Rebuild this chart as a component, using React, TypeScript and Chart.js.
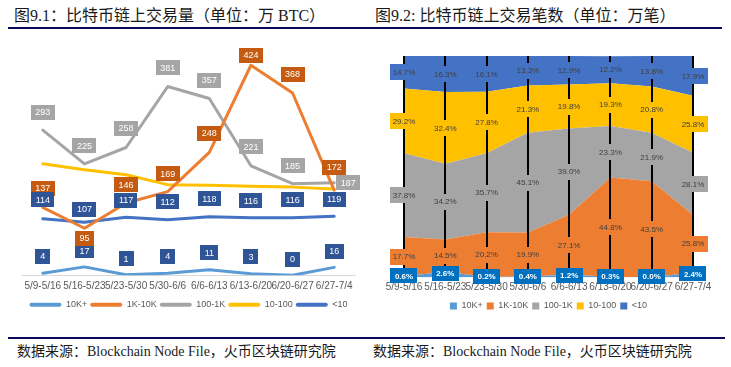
import React, { useEffect, useRef } from 'react';
import { Chart, registerables } from 'chart.js';

Chart.register(...registerables);

// ---------- data ----------
const categories = ['5/9-5/16', '5/16-5/23', '5/23-5/30', '5/30-6/6', '6/6-6/13', '6/13-6/20', '6/20-6/27', '6/27-7/4'];
const seriesNames = ['10K+', '1K-10K', '100-1K', '10-100', '<10'];

// Fig 9.1: on-chain volume (万 BTC)
const vol10Kplus = [4, 17, 1, 4, 11, 3, 0, 16];
const vol1Kto10K = [137, 95, 146, 169, 248, 424, 368, 172];
const vol100to1K = [293, 225, 258, 381, 357, 221, 185, 187];
const vol10to100 = [225, 213, 203, 183, 182, 180, 178, 174];
const volUnder10 = [114, 107, 117, 112, 118, 116, 116, 119];

// Fig 9.2: on-chain transaction count share (%)
const cnt10Kplus = [0.6, 2.6, 0.2, 0.4, 1.2, 0.3, 0.0, 2.4];
const cnt1Kto10K = [17.7, 14.5, 20.2, 19.9, 27.1, 44.8, 43.5, 25.8];
const cnt100to1K = [37.8, 34.2, 35.7, 45.1, 39.0, 23.3, 21.9, 28.1];
const cnt10to100 = [29.2, 32.4, 27.8, 21.3, 19.8, 19.3, 20.8, 25.8];
const cntUnder10 = [14.7, 16.3, 16.1, 13.3, 12.9, 12.2, 13.8, 17.9];

// ---------- styles ----------
const seriesColors = ['#5B9BD5', '#ED7D31', '#A5A5A5', '#FFC000', '#4472C4'];
const SANS = '"Liberation Sans", Arial, sans-serif';
const volLabelBoxColors = ['#2F5597', '#C55A11', '#A5A5A5', null, '#2F5597'];
const volLabelDy: (number[] | null)[] = [
  [-17, -16, -16, -17, -17, -17, -16, -16],
  [-19, 10, -18, -18, -19, -10, -19, -23],
  [-18, -18, -19, -19, -18, -19, -18, 0],
  null,
  [-19, -13, -17, -18, -18, -17, -18, -17],
];
const volLabelDx: (number[] | null)[] = [null, null, [0, 0, 0, 0, 0, 0, 0, 14], null, null];

const volLabelPlugin = {
  id: 'volLabels',
  afterDraw(chart: any) {
    const ctx = chart.ctx;
    ctx.save();
    ctx.font = `9px ${SANS}`;
    ctx.textAlign = 'center';
    ctx.textBaseline = 'middle';
    chart.data.datasets.forEach((ds: any, di: number) => {
      const color = volLabelBoxColors[di];
      const dys = volLabelDy[di];
      if (!color || !dys) return;
      const dxs = volLabelDx[di];
      const meta = chart.getDatasetMeta(di);
      meta.data.forEach((pt: any, i: number) => {
        const text = String(ds.data[i]);
        const w = Math.max(ctx.measureText(text).width + 9, 15);
        const h = 15;
        const cx = pt.x + (dxs ? dxs[i] : 0);
        const cy = pt.y + dys[i];
        ctx.fillStyle = color;
        ctx.fillRect(Math.round(cx - w / 2), Math.round(cy - h / 2), Math.round(w), h);
        ctx.fillStyle = '#ffffff';
        ctx.fillText(text, cx, cy + 0.5);
      });
    });
    ctx.restore();
  },
};

const cntLabelPlugin = {
  id: 'cntLabels',
  afterDraw(chart: any) {
    const ctx = chart.ctx;
    const base = chart.scales.y.getPixelForValue(0);
    ctx.save();
    ctx.textAlign = 'center';
    ctx.textBaseline = 'middle';
    chart.data.datasets.forEach((ds: any, di: number) => {
      const meta = chart.getDatasetMeta(di);
      const prev = di > 0 ? chart.getDatasetMeta(di - 1) : null;
      meta.data.forEach((pt: any, i: number) => {
        const yb = prev ? prev.data[i].y : base;
        const cy = (pt.y + yb) / 2;
        const text = Number(ds.data[i]).toFixed(1) + '%';
        if (di === 0) {
          ctx.font = `bold 8px ${SANS}`;
          const w = ctx.measureText(text).width + 9;
          const h = 15;
          ctx.fillStyle = '#0070C0';
          ctx.fillRect(Math.round(pt.x - w / 2), Math.round(cy - h / 2 - 1), Math.round(w), h);
          ctx.fillStyle = '#ffffff';
          ctx.fillText(text, pt.x, cy - 0.5);
        } else {
          ctx.font = `8px ${SANS}`;
          const w = ctx.measureText(text).width + 6;
          const h = 16;
          ctx.fillStyle = seriesColors[di];
          ctx.fillRect(Math.round(pt.x - w / 2), Math.round(cy - h / 2), Math.round(w), h);
          ctx.fillStyle = '#404040';
          ctx.fillText(text, pt.x, cy + 0.5);
        }
      });
    });
    ctx.restore();
  },
};

function VolumeChart() {
  const ref = useRef<HTMLCanvasElement>(null);
  useEffect(() => {
    if (!ref.current) return;
    const values = [vol10Kplus, vol1Kto10K, vol100to1K, vol10to100, volUnder10];
    const chart = new Chart(ref.current, {
      type: 'line',
      data: {
        labels: categories,
        datasets: values.map((d, i) => ({
          label: seriesNames[i],
          data: d,
          borderColor: seriesColors[i],
          backgroundColor: seriesColors[i],
          borderWidth: 3,
          pointRadius: 0,
          tension: 0,
          fill: false,
          borderCapStyle: 'round' as const,
          borderJoinStyle: 'round' as const,
        })),
      },
      options: {
        responsive: false,
        animation: false,
        layout: { padding: { left: 22, right: 10, top: 10, bottom: 2.7 } },
        scales: {
          x: {
            offset: true,
            grid: { display: false, drawTicks: false },
            border: { display: true, color: '#D9D9D9', width: 1 },
            ticks: { autoSkip: false, maxRotation: 0, minRotation: 0, padding: 5, color: '#595959', font: { family: SANS, size: 10 } },
          },
          y: { display: false, min: 0, max: 475 },
        },
        plugins: {
          tooltip: { enabled: false },
          legend: {
            position: 'bottom',
            labels: {
              boxWidth: 32,
              boxHeight: 4,
              padding: 3,
              color: '#595959',
              font: { family: SANS, size: 9 },
              generateLabels: (c: any) =>
                c.data.datasets.map((ds: any, i: number) => ({
                  text: ds.label,
                  fillStyle: ds.borderColor,
                  strokeStyle: ds.borderColor,
                  lineWidth: 0,
                  borderRadius: 2,
                  hidden: false,
                  datasetIndex: i,
                  fontColor: '#595959',
                })),
            },
          },
        },
      },
      plugins: [volLabelPlugin],
    } as any);
    return () => chart.destroy();
  }, []);
  return <canvas ref={ref} width={365} height={292} style={{ position: 'absolute', left: 0, top: 30, width: 365, height: 292 }} />;
}

function CountChart() {
  const ref = useRef<HTMLCanvasElement>(null);
  useEffect(() => {
    if (!ref.current) return;
    const values = [cnt10Kplus, cnt1Kto10K, cnt100to1K, cnt10to100, cntUnder10];
    const chart = new Chart(ref.current, {
      type: 'line',
      data: {
        labels: categories,
        datasets: values.map((d, i) => ({
          label: seriesNames[i],
          data: d,
          borderColor: seriesColors[i],
          backgroundColor: seriesColors[i],
          borderWidth: 0,
          pointRadius: 0,
          tension: 0,
          fill: i === 0 ? 'origin' : '-1',
        })),
      },
      options: {
        responsive: false,
        animation: false,
        layout: { padding: { left: 39, right: 38, top: 26, bottom: 2.5 } },
        scales: {
          x: {
            offset: false,
            grid: { display: true, color: '#000000', lineWidth: 2, drawTicks: false, z: 1 },
            border: { display: false },
            ticks: { autoSkip: false, maxRotation: 0, minRotation: 0, padding: 4, color: '#595959', font: { family: SANS, size: 10 } },
          },
          y: { display: false, stacked: true, min: 0, max: 100 },
        },
        plugins: {
          tooltip: { enabled: false },
          filler: { propagate: false },
          legend: {
            position: 'bottom',
            labels: {
              boxWidth: 7,
              boxHeight: 7,
              padding: 4,
              color: '#595959',
              font: { family: SANS, size: 9 },
              generateLabels: (c: any) =>
                c.data.datasets.map((ds: any, i: number) => ({
                  text: ds.label,
                  fillStyle: ds.backgroundColor,
                  strokeStyle: ds.backgroundColor,
                  lineWidth: 0,
                  hidden: false,
                  datasetIndex: i,
                  fontColor: '#595959',
                })),
            },
          },
        },
      },
      plugins: [cntLabelPlugin],
    } as any);
    return () => chart.destroy();
  }, []);
  return <canvas ref={ref} width={366} height={293} style={{ position: 'absolute', left: 365, top: 30, width: 366, height: 293 }} />;
}

const titleFont = '"Liberation Serif", "Noto Sans CJK SC", serif';

export default function App() {
  return (
    <div style={{ position: 'absolute', left: 0, top: 0, width: 731, height: 367, background: '#ffffff', overflow: 'hidden' }}>
      <div style={{ position: 'absolute', left: 14, top: 6, fontFamily: titleFont, fontSize: 16, lineHeight: '20px', color: '#1a1a1a', whiteSpace: 'nowrap' }}>
        图9.1：比特币链上交易量（单位：万 BTC）
      </div>
      <div style={{ position: 'absolute', left: 375, top: 6, fontFamily: titleFont, fontSize: 16, lineHeight: '20px', color: '#1a1a1a', whiteSpace: 'nowrap' }}>
        图9.2: 比特币链上交易笔数（单位：万笔）
      </div>
      <div style={{ position: 'absolute', left: 8, top: 27, width: 714, height: 2, background: '#0B0B5C' }} />
      <VolumeChart />
      <CountChart />
      <div style={{ position: 'absolute', left: 8, top: 337, width: 717, height: 2, background: '#0B0B5C' }} />
      <div style={{ position: 'absolute', left: 17, top: 343, fontFamily: titleFont, fontSize: 14, lineHeight: '18px', color: '#1a1a1a', whiteSpace: 'nowrap' }}>
        数据来源：Blockchain Node File，火币区块链研究院
      </div>
      <div style={{ position: 'absolute', left: 373, top: 343, fontFamily: titleFont, fontSize: 14, lineHeight: '18px', color: '#1a1a1a', whiteSpace: 'nowrap' }}>
        数据来源：Blockchain Node File，火币区块链研究院
      </div>
    </div>
  );
}
